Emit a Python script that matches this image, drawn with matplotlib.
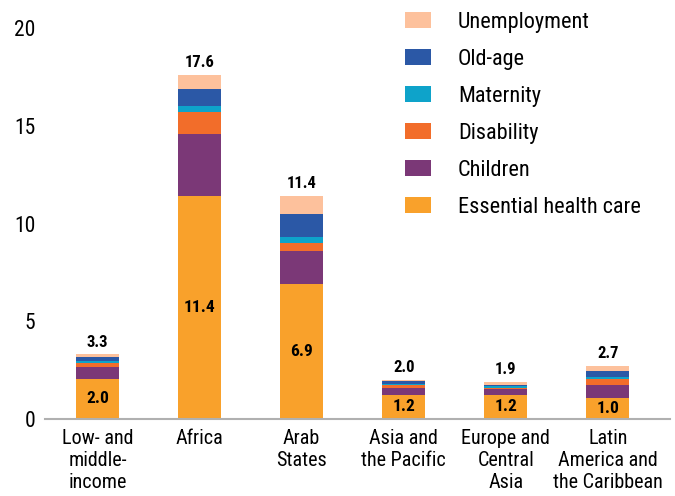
import matplotlib
matplotlib.use("Agg")
import matplotlib.pyplot as plt
from matplotlib import font_manager
import numpy as np

# pick a condensed face if one is installed
installed = {f.name for f in font_manager.fontManager.ttflist}
font_name = "Roboto"
for cand in ["Roboto Condensed", "Liberation Sans Narrow", "Roboto"]:
    if cand in installed:
        font_name = cand
        break
plt.rcParams["font.family"] = [font_name, "DejaVu Sans"]

categories = ["Low- and\nmiddle-\nincome", "Africa", "Arab\nStates",
              "Asia and\nthe Pacific", "Europe and\nCentral\nAsia",
              "Latin\nAmerica and\nthe Caribbean"]

health = [2.05, 11.4, 6.9, 1.25, 1.25, 1.05]
children = [0.6, 3.2, 1.7, 0.35, 0.3, 0.7]
disability = [0.2, 1.1, 0.4, 0.15, 0.06, 0.3]
maternity = [0.1, 0.3, 0.3, 0.03, 0.06, 0.1]
old_age = [0.2, 0.9, 1.2, 0.15, 0.08, 0.3]
unemployment = [0.15, 0.7, 0.9, 0.07, 0.15, 0.25]

totals = [3.3, 17.6, 11.4, 2.0, 1.9, 2.7]
health_labels = ["2.0", "11.4", "6.9", "1.2", "1.2", "1.0"]

series = [
    ("Essential health care", health, "#f9a12b"),
    ("Children", children, "#7b3877"),
    ("Disability", disability, "#f26d2a"),
    ("Maternity", maternity, "#0ea3ca"),
    ("Old-age", old_age, "#2b58a6"),
    ("Unemployment", unemployment, "#fdc19c"),
]

fig = plt.figure(figsize=(6.75, 4.96), dpi=100)
ax = fig.add_axes([45 / 675, 77 / 496, 625 / 675, 391 / 496])

x = np.arange(len(categories))
bottom = np.zeros(len(categories))
handles = []
for name, vals, col in series:
    b = ax.bar(x, vals, width=0.42, bottom=bottom, color=col,
               edgecolor="none", label=name)
    handles.append(b)
    bottom += np.array(vals)

# totals above bars
for xi, tot in zip(x, totals):
    ax.annotate(f"{tot:.1f}", (xi, tot), xytext=(0, 3.5), textcoords="offset points",
                ha="center", va="bottom", fontsize=12, fontweight="bold")

# essential health care value inside the bottom segment
for xi, h, lab in zip(x, health, health_labels):
    ax.text(xi, h / 2, lab, ha="center", va="center",
            fontsize=12.5, fontweight="bold")

ax.set_ylim(0, 20)
ax.set_xlim(-0.515, 5.61)
ax.set_yticks([0, 5, 10, 15, 20])
ax.set_xticks(x)
ax.set_xticklabels(categories, fontsize=14.5, linespacing=1.2)
ax.tick_params(axis="y", length=0, pad=7, labelsize=15.5)
ax.tick_params(axis="x", length=0, pad=7)

for s in ["top", "right", "left"]:
    ax.spines[s].set_visible(False)
ax.spines["bottom"].set_color("#b0b0b0")
ax.spines["bottom"].set_linewidth(1.5)

fig.legend(handles[::-1], [s[0] for s in series][::-1],
           loc="upper left", bbox_to_anchor=(405 / 675, 1 - 12 / 496),
           frameon=False, borderpad=0, borderaxespad=0, fontsize=16,
           handlelength=1.17, handleheight=0.72, handletextpad=1.22,
           labelspacing=0.72)

fig.savefig("out.png", dpi=100)
